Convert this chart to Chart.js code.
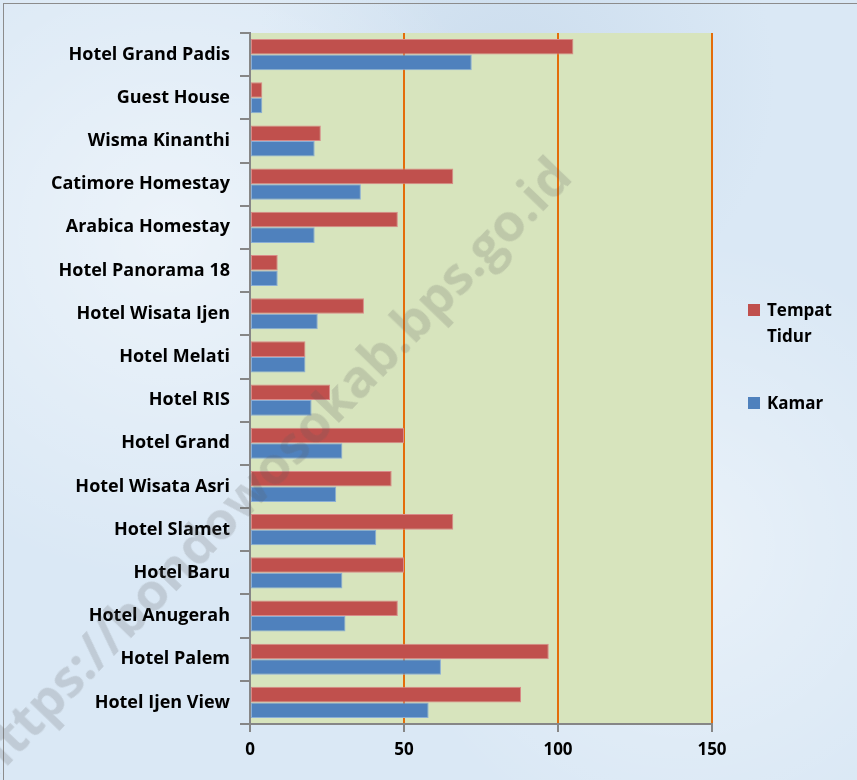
<!DOCTYPE html>
<html>
<head>
<meta charset="utf-8">
<script src="https://cdn.jsdelivr.net/npm/chart.js@4.4.1/dist/chart.umd.min.js"></script>
<style>
  html, body { margin: 0; padding: 0; }
  body {
    width: 857px; height: 780px; overflow: hidden; position: relative;
    background-color: #dae8f5;
    background-image:
      radial-gradient(circle at 20% 30%, rgba(255,255,255,0.5), rgba(255,255,255,0) 40%),
      radial-gradient(circle at 80% 70%, rgba(255,255,255,0.4), rgba(255,255,255,0) 35%),
      radial-gradient(circle at 60% 10%, rgba(190,210,230,0.5), rgba(190,210,230,0) 30%);
    font-family: "Open Sans", sans-serif;
  }
  #frame { position: absolute; left: 3px; top: 3px; width: 870px; height: 800px; border: 1px solid #8c8c8c; box-sizing: border-box; }
  #wrap { position: absolute; left: 0; top: 0; width: 857px; height: 780px; }
  .legend { position: absolute; left: 748px; font-weight: bold; font-size: 17px; color: #000; line-height: 26px; }
  .legend .sw { position: absolute; left: 0; top: 7px; width: 12px; height: 12px; }
  .legend .tx { position: absolute; left: 19px; white-space: nowrap; }
  #wm {
    position: absolute; left: -48px; top: 743px; transform-origin: 0 0; transform: rotate(-46deg);
    font-family: "Open Sans", sans-serif; font-weight: bold; font-size: 52px; color: rgba(90,90,90,0.2);
    white-space: nowrap; pointer-events: none;
  }
</style>
</head>
<body>
<div id="frame"></div>
<div id="wrap"><canvas id="c"></canvas></div>
<div class="legend" style="top:297px"><div class="sw" style="background:#c0504d"></div><div class="tx">Tempat<br>Tidur</div></div>
<div class="legend" style="top:390px"><div class="sw" style="background:#4f81bd"></div><div class="tx">Kamar</div></div>
<div id="wm">https://bondowosokab.bps.go.id</div>
<script>
// data
const hotels = ['Hotel Grand Padis', 'Guest House', 'Wisma Kinanthi', 'Catimore Homestay', 'Arabica Homestay',
  'Hotel Panorama 18', 'Hotel Wisata Ijen', 'Hotel Melati', 'Hotel RIS', 'Hotel Grand', 'Hotel Wisata Asri',
  'Hotel Slamet', 'Hotel Baru', 'Hotel Anugerah', 'Hotel Palem', 'Hotel Ijen View'];
const tempatTidur = [105, 4, 23, 66, 48, 9, 37, 18, 26, 50, 46, 66, 50, 48, 97, 88];
const kamar = [72, 4, 21, 36, 21, 9, 22, 18, 20, 30, 28, 41, 30, 31, 62, 58];
const xTicks = [0, 50, 100, 150];

// green plot area background
const plotBg = {
  id: 'plotBg',
  beforeDraw(chart) {
    const a = chart.chartArea, ctx = chart.ctx;
    ctx.save();
    ctx.fillStyle = '#d7e4bd';
    ctx.fillRect(a.left, a.top, a.right - a.left, a.bottom - a.top);
    ctx.restore();
  }
};

const ctx = document.getElementById('c').getContext('2d');
new Chart(ctx, {
  type: 'bar',
  data: {
    labels: hotels,
    datasets: [
      { label: 'Tempat Tidur', data: tempatTidur, backgroundColor: '#c0504d', borderColor: '#d98a88', borderWidth: 1, borderSkipped: false },
      { label: 'Kamar', data: kamar, backgroundColor: '#4f81bd', borderColor: '#8aaed6', borderWidth: 1, borderSkipped: false }
    ]
  },
  options: {
    indexAxis: 'y',
    responsive: true,
    maintainAspectRatio: false,
    animation: false,
    layout: { padding: { top: 33, right: 145, left: 0, bottom: 0 } },
    datasets: { bar: { categoryPercentage: 0.72, barPercentage: 1 } },
    plugins: { legend: { display: false }, tooltip: { enabled: false } },
    scales: {
      x: {
        min: 0, max: 150,
        afterBuildTicks(s) { s.ticks = xTicks.map(v => ({ value: v })); },
        afterFit(s) { s.height = 56; },
        grid: {
          color: c => (c.tick && c.tick.value === 0) ? 'rgba(0,0,0,0)' : '#e46c0a',
          lineWidth: 2,
          tickColor: '#868686',
          tickLength: 8
        },
        border: { color: '#868686', width: 2 },
        ticks: { color: '#000', padding: 8, font: { family: 'Open Sans', weight: 'bold', size: 17 } }
      },
      y: {
        afterFit(s) { s.width = 250; },
        grid: { drawOnChartArea: false, tickColor: '#868686', tickLength: 10, lineWidth: 2, offset: true },
        border: { color: '#868686', width: 2 },
        ticks: { color: '#000', padding: 10, font: { family: 'Open Sans', weight: 'bold', size: 18 } }
      }
    }
  },
  plugins: [plotBg]
});
</script>
</body>
</html>
